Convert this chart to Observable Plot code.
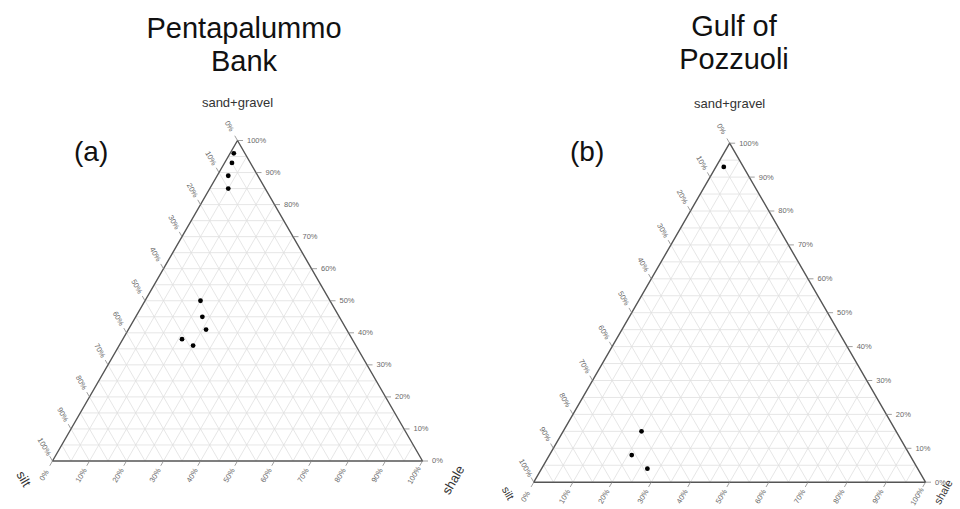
<!DOCTYPE html>
<html><head><meta charset="utf-8">
<script src="https://cdn.jsdelivr.net/npm/d3@7"></script>
<script src="https://cdn.jsdelivr.net/npm/@observablehq/plot@0.6"></script>
<style>
body{margin:0;background:#fff;width:960px;height:509px;position:relative;overflow:hidden;font-family:"Liberation Sans",Arial,sans-serif;}
.panel{position:absolute;top:0;width:480px;height:509px;}
.title{position:absolute;font-size:29px;line-height:33px;text-align:center;color:#111;width:300px;}
.tag{position:absolute;font-size:28px;line-height:33px;color:#111;}
</style></head><body>
<div id="left" class="panel" style="left:0"></div>
<div id="right" class="panel" style="left:480px"></div>
<div class="title" style="left:94px;top:12px">Pentapalummo<br>Bank</div>
<div class="title" style="left:584px;top:10px">Gulf of<br>Pozzuoli</div>
<div class="tag" style="left:74px;top:135px">(a)</div>
<div class="tag" style="left:570px;top:135px">(b)</div>
<script>
// ---- data (percent) ----
const tickValues = [0, 10, 20, 30, 40, 50, 60, 70, 80, 90, 100];
const vertexLabels = ["sand+gravel", "silt", "shale"];

// (a) Pentapalummo Bank
const penta_sand  = [96, 93, 89, 85, 50, 45, 41, 38, 36];
const penta_shale = [1, 2, 3, 5, 15, 18, 21, 16, 20];
const penta_silt  = [3, 5, 8, 10, 35, 37, 38, 46, 44];

// (b) Gulf of Pozzuoli
const pozz_sand  = [93, 15, 8, 4];
const pozz_shale = [2, 20, 21, 27];
const pozz_silt  = [5, 65, 71, 69];

const SQ = Math.sqrt(3) / 2;
const tx = (sand, shale) => (shale + sand / 2) / 100;
const ty = (sand) => sand / 100 * SQ;

function ternary(sand, shale, silt, m, sgDy, siltOff, shaleOff, cornerSize) {
  const W = 480, H = 509;
  const unit = W - m.left - m.right;
  const tl = 5.5 / unit;
  const pts = sand.map((s, i) => ({sand: s, shale: shale[i], silt: silt[i]}))
    .map(d => ({X: tx(d.sand, d.shale), Y: ty(d.sand)}));
  const steps = d3.range(5, 100, 5);
  const grid = [];
  for (const k of steps) {
    grid.push({x1: tx(k, 0), y1: ty(k), x2: tx(k, 100 - k), y2: ty(k)});
    grid.push({x1: tx(0, k), y1: ty(0), x2: tx(100 - k, k), y2: ty(100 - k)});
    grid.push({x1: tx(0, 100 - k), y1: ty(0), x2: tx(100 - k, 0), y2: ty(100 - k)});
  }
  const corners = [
    {X: tx(0, 0), Y: ty(0)}, {X: tx(0, 100), Y: ty(0)}, {X: tx(100, 0), Y: ty(100)}, {X: tx(0, 0), Y: ty(0)}
  ];
  const rightT = tickValues.map(v => ({v, X: tx(v, 100 - v), Y: ty(v)}));
  const bottomT = tickValues.map(v => ({v, X: tx(0, v), Y: ty(0)}));
  const leftT = tickValues.map(v => ({v, X: tx(100 - v, 0), Y: ty(100 - v)}));
  const off = 16.5;
  const lab = {fontSize: 7.5, fill: "#6a6a6a", text: d => `${d.v}%`};
  return Plot.plot({
    width: W, height: H,
    marginLeft: m.left, marginRight: m.right, marginTop: m.top, marginBottom: m.bottom,
    x: {domain: [0, 1], axis: null},
    y: {domain: [0, SQ], axis: null},
    style: {background: "transparent", fontFamily: "Liberation Sans, Arial, sans-serif"},
    marks: [
      Plot.link(grid, {x1: "x1", y1: "y1", x2: "x2", y2: "y2", stroke: "#e0e0e0", strokeWidth: 0.8}),
      Plot.line(corners, {x: "X", y: "Y", stroke: "#555", strokeWidth: 1.4}),
      Plot.link(rightT, {x1: "X", y1: "Y", x2: d => d.X + tl, y2: "Y", stroke: "#888", strokeWidth: 0.8}),
      Plot.link(bottomT, {x1: "X", y1: "Y", x2: d => d.X - 0.5 * tl, y2: d => d.Y - SQ * tl, stroke: "#888", strokeWidth: 0.8}),
      Plot.link(leftT, {x1: "X", y1: "Y", x2: d => d.X - 0.5 * tl, y2: d => d.Y + SQ * tl, stroke: "#888", strokeWidth: 0.8}),
      Plot.text(rightT, {x: "X", y: "Y", dx: 9.5, textAnchor: "start", lineAnchor: "middle", ...lab}),
      Plot.text(bottomT, {x: "X", y: "Y", dx: -0.5 * off, dy: SQ * off, rotate: -60, textAnchor: "middle", lineAnchor: "middle", ...lab}),
      Plot.text(leftT, {x: "X", y: "Y", dx: -0.5 * off, dy: -SQ * off, rotate: 60, textAnchor: "middle", lineAnchor: "middle", ...lab}),
      Plot.text([{X: tx(100, 0), Y: ty(100), t: vertexLabels[0]}], {x: "X", y: "Y", text: "t", dy: sgDy, lineAnchor: "bottom", fontSize: 13, fill: "#333"}),
      Plot.text([{X: tx(0, 0), Y: ty(0), t: vertexLabels[1]}], {x: "X", y: "Y", text: "t", dx: siltOff[0], dy: siltOff[1], rotate: 60, lineAnchor: "middle", fontSize: cornerSize, fill: "#333"}),
      Plot.text([{X: tx(0, 100), Y: ty(0), t: vertexLabels[2]}], {x: "X", y: "Y", text: "t", dx: shaleOff[0], dy: shaleOff[1], rotate: -60, lineAnchor: "middle", fontSize: cornerSize, fill: "#333"}),
      Plot.dot(pts, {x: "X", y: "Y", r: 2.4, fill: "#000", stroke: "none"})
    ]
  });
}

document.getElementById("left").append(
  ternary(penta_sand, penta_shale, penta_silt, {left: 52, right: 58, top: 140, bottom: 48.5}, -33.3, [-29, 18], [31, 19], 13));
document.getElementById("right").append(
  ternary(pozz_sand, pozz_shale, pozz_silt, {left: 53.3, right: 35, top: 142.7, bottom: 27.3}, -35.7, [-26, 11], [18, 10], 11));
</script>
</body></html>
